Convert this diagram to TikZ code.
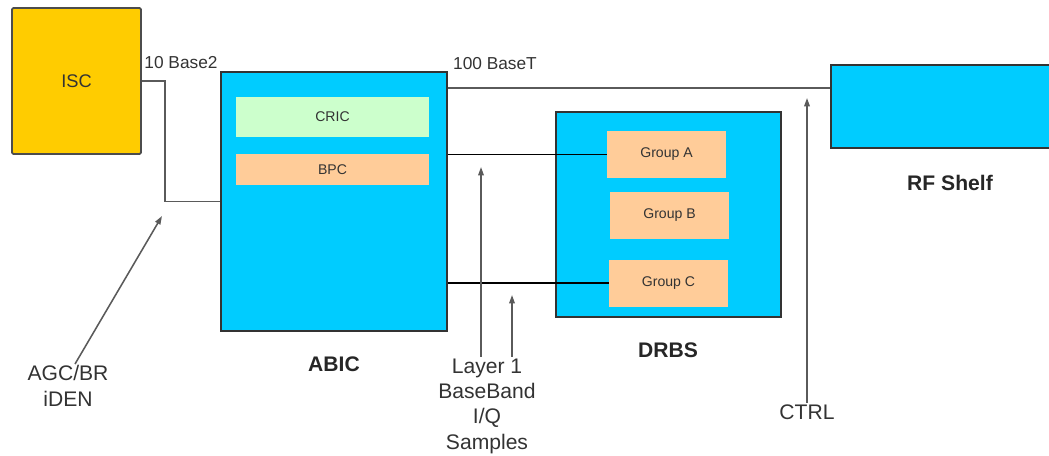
\documentclass[tikz,border=0pt]{standalone}
\usepackage{fontspec}
\setmainfont{Liberation Sans}
\usepackage{tikz}
\usetikzlibrary{arrows.meta, positioning, calc}
\definecolor{shelfcol}{RGB}{0,204,255}
\definecolor{isccol}{RGB}{255,204,0}
\definecolor{criccol}{RGB}{204,255,204}
\definecolor{grpcol}{RGB}{255,204,153}
\definecolor{txtcol}{RGB}{51,51,51}
\definecolor{wirecol}{RGB}{90,90,90}

\begin{document}
\begin{tikzpicture}[x=0.025cm, y=-0.025cm, font=\fontsize{15}{18}\selectfont, text=txtcol,
    shelf/.style={draw=black!80, line width=1.1pt, fill=shelfcol},
    card/.style={fill=#1, inner sep=0pt, font=\fontsize{10}{12}\selectfont},
    wire/.style={draw=wirecol, line width=1.1pt},
    sig/.style={wirecol, line width=1.1pt, -{Triangle[length=6pt,width=4pt]}},
    caption/.style={font=\bfseries\fontsize{15}{18}\selectfont, text=black!85}]

  \useasboundingbox (0,0) rectangle (1049,455);

  %% ─── Boxes ────────────────────────────────────────────────────────────────
  \node[draw=black!70, line width=1.3pt, fill=isccol, rounded corners=1pt,
        minimum width=3.225cm, minimum height=3.65cm,
        font=\fontsize{13}{15}\selectfont] (isc) at (76.5, 81) {ISC};

  \node[shelf, minimum width=5.65cm, minimum height=6.475cm] (abic) at (334, 201.5) {};
  \node[card=criccol, minimum width=4.825cm, minimum height=1.0cm] (cric) at (332.5, 117) {CRIC};
  \node[card=grpcol, minimum width=4.825cm, minimum height=0.775cm] (bpc) at (332.5, 169.5) {BPC};

  \node[shelf, minimum width=5.625cm, minimum height=5.125cm] (drbs) at (668.5, 214.5) {};
  % Groups inside DRBS
  \foreach \g/\xg/\yg in {A/666.5/154.5, B/669.5/215.5, C/668.5/283} {
    \node[card=grpcol, minimum width=2.975cm, minimum height=1.175cm] (grp\g) at (\xg, \yg)
      {Group \g};
  }

  \node[shelf, minimum width=5.525cm, minimum height=2.075cm] (rfshelf) at (941.5, 106.5) {};

  %% ─── Captions ─────────────────────────────────────────────────────────────
  \node[caption] (abiccap) at (334, 364) {ABIC};
  \node[caption] (drbscap) at (668, 350) {DRBS};
  \node[caption] (rfcap) at (950, 183) {RF Shelf};

  %% ─── Links ────────────────────────────────────────────────────────────────
  \node[font=\fontsize{12.3}{14}\selectfont] (tenbase) at (181, 63) {10 Base2};
  \draw[wire] (isc.east) -- ++(23,0) |- (abic.west);

  \node[font=\fontsize{12.3}{14}\selectfont] (hundred) at (495, 64) {100 BaseT};
  \coordinate (eth) at (640, 88);
  \draw[wire] (abic.east |- eth) -- (rfshelf.west |- eth);

  \draw[black, line width=0.8pt] (abic.east |- grpA.west) -- (grpA.west);
  \draw[black, line width=0.8pt] (abic.east |- grpC.west) -- (grpC.west);

  %% ─── Annotations ──────────────────────────────────────────────────────────
  \node[align=center, inner sep=1pt] (agc) at (68, 386) {AGC/BR\\iDEN};
  \coordinate (agctip) at (162, 216);
  \draw[sig] ([xshift=7*0.025cm]agc.north) -- (agctip);

  \node[align=center, inner sep=1pt] (layer) at (487, 406)
    {Layer 1\\BaseBand\\I/Q\\Samples};
  \coordinate (iqtipA) at (481, 167);
  \coordinate (iqtipB) at (512, 295);
  \draw[sig] (iqtipA |- layer.north) -- (iqtipA);
  \draw[sig] (iqtipB |- layer.north) -- (iqtipB);

  \node[inner sep=1pt] (ctrl) at (807, 412) {CTRL};
  \coordinate (ctrltip) at (807, 98);
  \draw[sig] (ctrl.north) -- (ctrltip);
\end{tikzpicture}
\end{document}
